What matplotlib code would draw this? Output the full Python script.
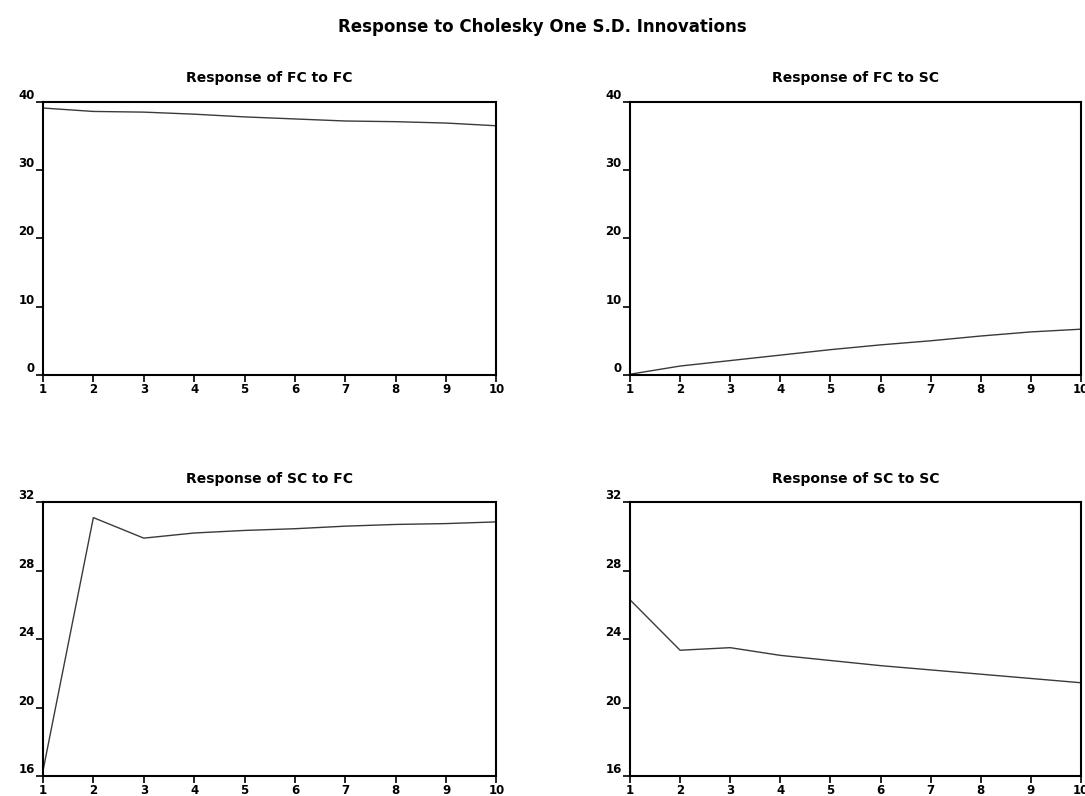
import numpy as np
import matplotlib
matplotlib.use("Agg")
import matplotlib.pyplot as plt

periods = [1, 2, 3, 4, 5, 6, 7, 8, 9, 10]

fc_to_fc = [39.1, 38.6, 38.5, 38.2, 37.8, 37.5, 37.2, 37.1, 36.9, 36.5]
fc_to_sc = [0.1, 1.3, 2.1, 2.9, 3.7, 4.4, 5.0, 5.7, 6.3, 6.7]
sc_to_fc = [16.3, 31.1, 29.9, 30.2, 30.35, 30.45, 30.6, 30.7, 30.75, 30.85]
sc_to_sc = [26.3, 23.35, 23.5, 23.05, 22.75, 22.45, 22.2, 21.95, 21.7, 21.45]

titles = ["Response of FC to FC", "Response of FC to SC",
          "Response of SC to FC", "Response of SC to SC"]
series = [fc_to_fc, fc_to_sc, sc_to_fc, sc_to_sc]
ylims = [(0, 40), (0, 40), (16, 32), (16, 32)]
yticks = [[0, 10, 20, 30, 40], [0, 10, 20, 30, 40],
          [16, 20, 24, 28, 32], [16, 20, 24, 28, 32]]

plt.rcParams['font.family'] = ['DejaVu Sans']

fig = plt.figure(figsize=(10.85, 7.96), dpi=100)
fig.text(0.4995, 0.966, "Response to Cholesky One S.D. Innovations",
         ha='center', va='center', fontsize=12, fontweight='bold')

# left, bottom, width, height (figure fraction)
boxes = [
    (0.0396, 0.529, 0.418, 0.343),
    (0.5806, 0.529, 0.4157, 0.343),
    (0.0396, 0.0251, 0.418, 0.344),
    (0.5806, 0.0251, 0.4157, 0.344),
]

for i in range(4):
    ax = fig.add_axes(boxes[i])
    ax.plot(periods, series[i], color='#3a3a3a', lw=1.0)
    ax.set_xlim(1, 10)
    ax.set_ylim(*ylims[i])
    ax.set_xticks(periods)
    ax.set_yticks(yticks[i])
    ax.tick_params(direction='out', length=5, width=1.2, labelsize=8.5, pad=1)
    for lab in ax.get_xticklabels() + ax.get_yticklabels():
        lab.set_fontweight('bold')
    for lab in ax.get_yticklabels():
        lab.set_va('bottom')
    for s in ax.spines.values():
        s.set_linewidth(1.5)
    ax.set_title(titles[i], fontsize=10, fontweight='bold', pad=14)

fig.savefig("out.png", dpi=100)
